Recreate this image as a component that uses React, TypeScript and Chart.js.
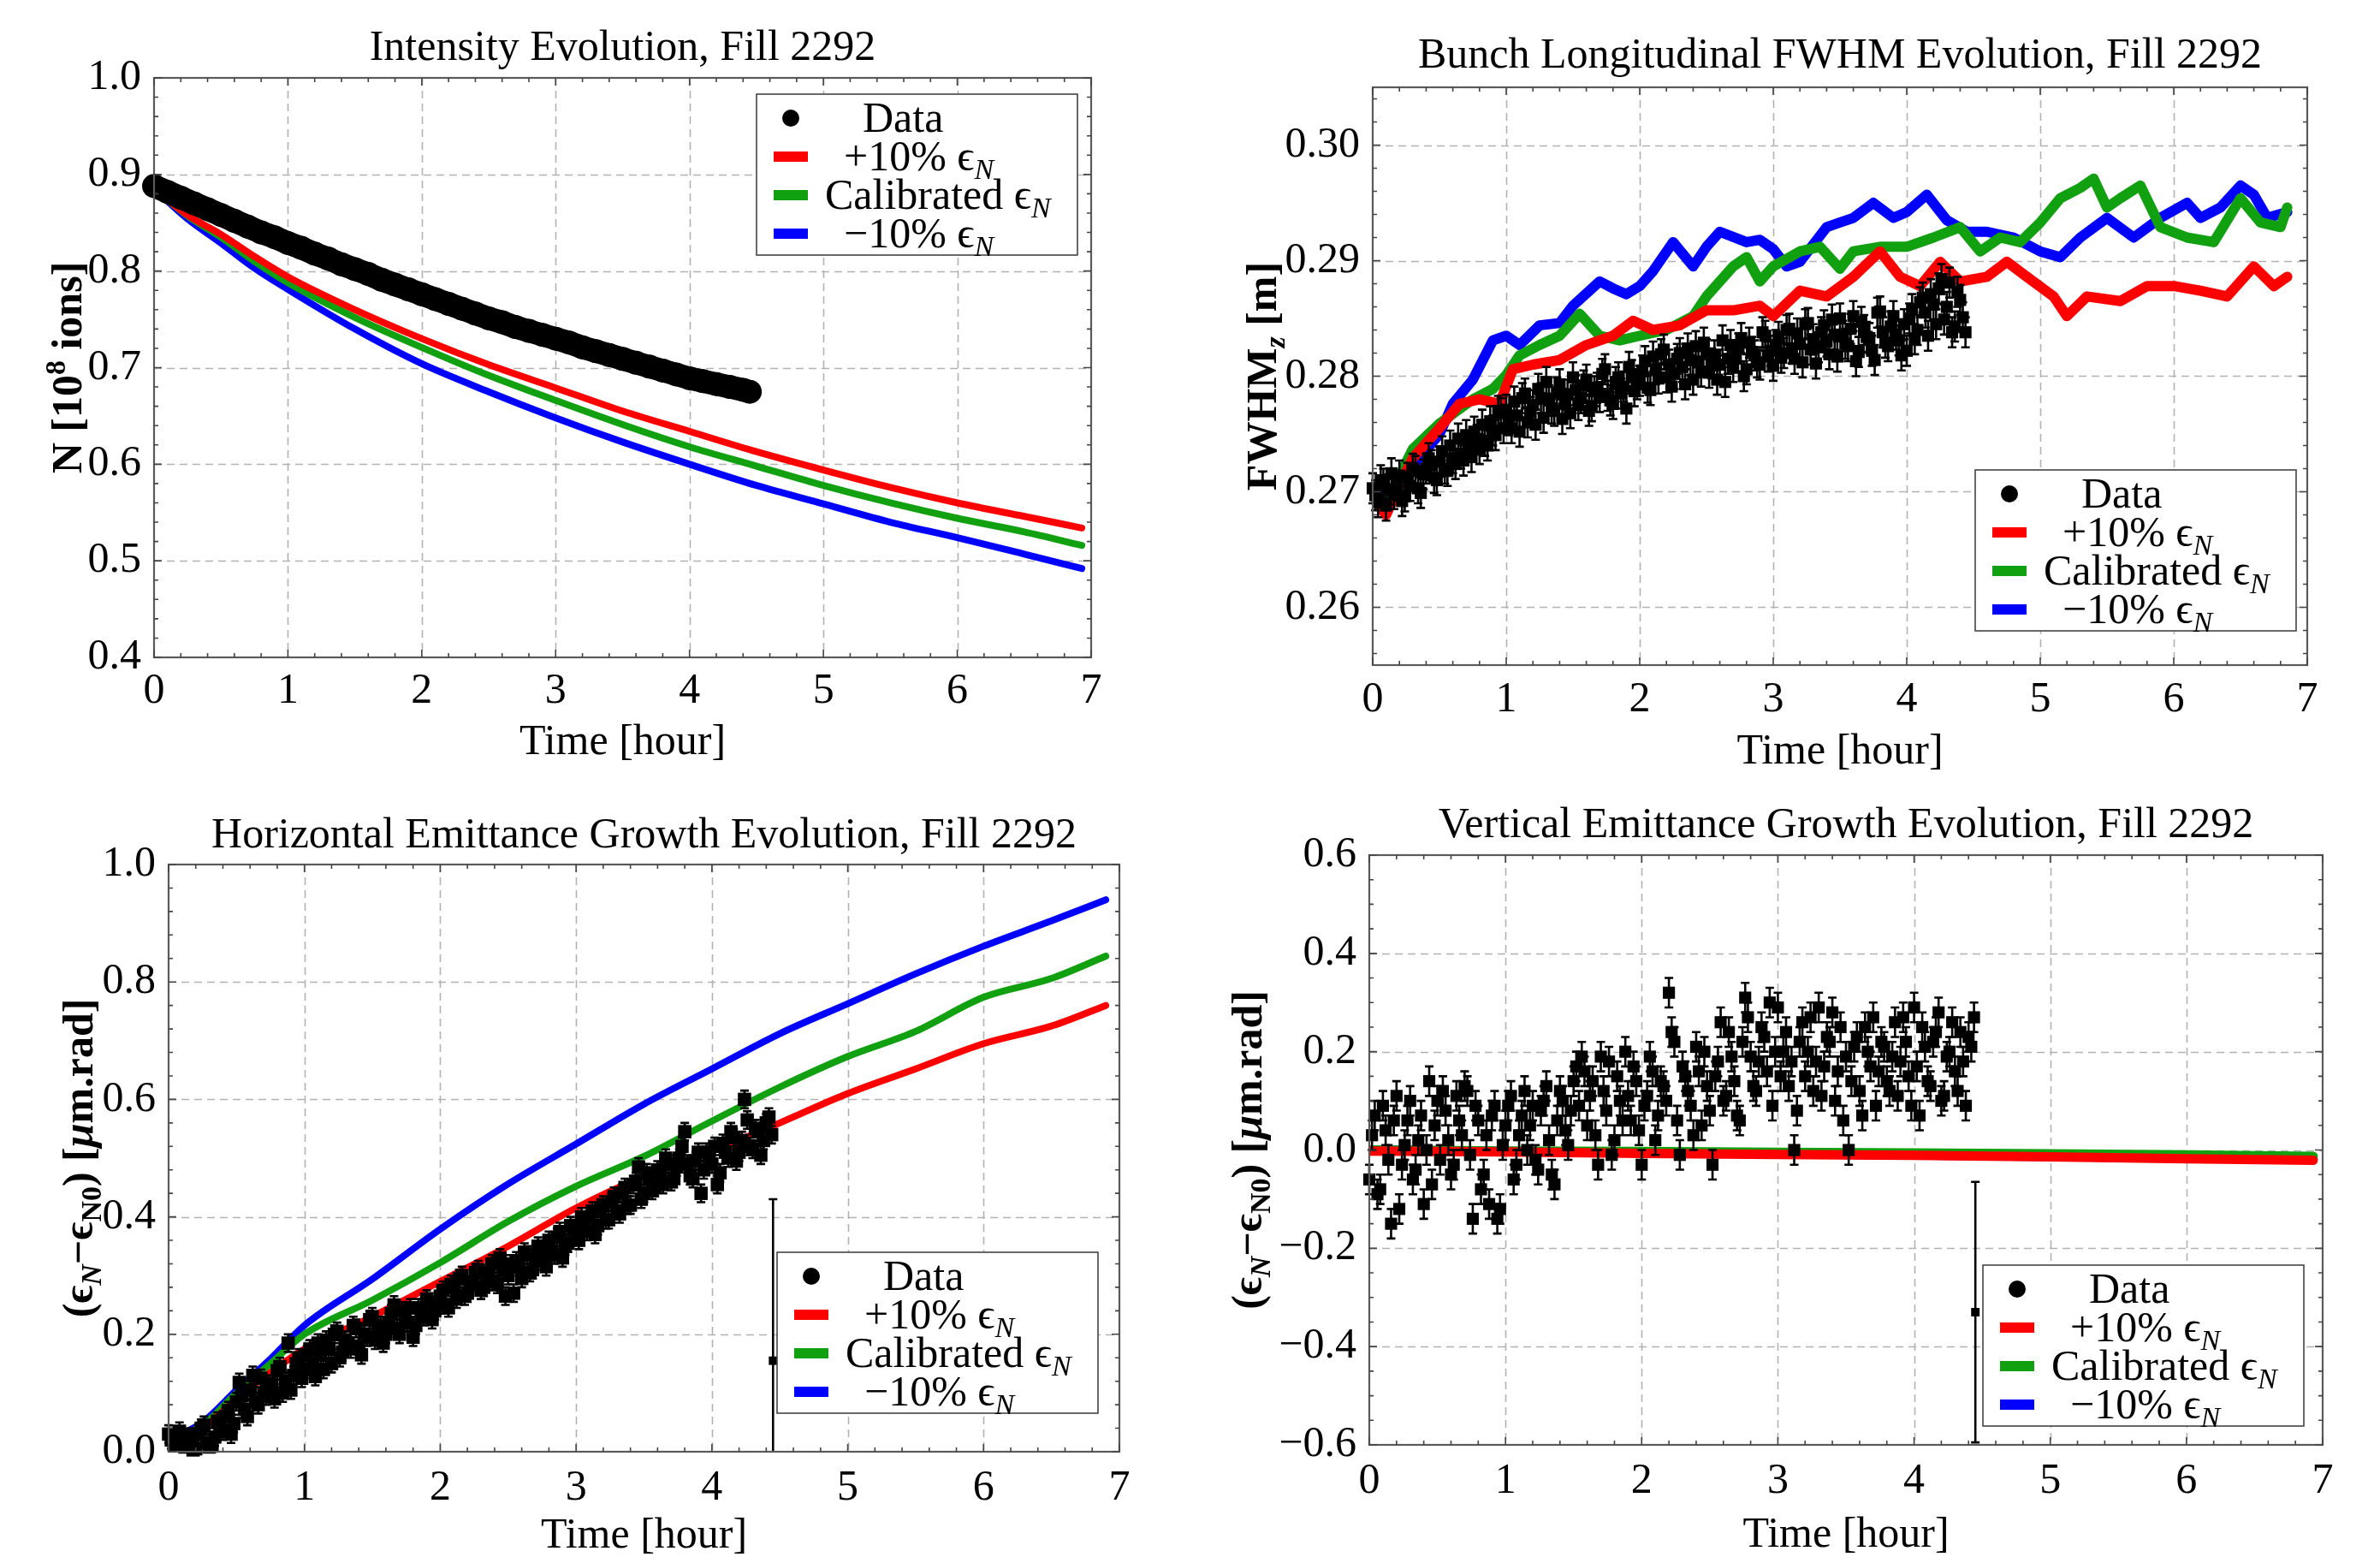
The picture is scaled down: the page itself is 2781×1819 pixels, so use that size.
import React, { useEffect, useRef } from 'react';
import { Chart, registerables } from 'chart.js';
Chart.register(...registerables);

const W = 2781;
const H = 1819;
const FONT = "'Liberation Serif', 'Times New Roman', serif";
const FS = 50;

// ---------------- DATA ----------------
// measurement times (hours) for the error-bar data sets: two interleaved sample sets
const DATA_T = [
  0, 0.04, 0.08, 0.12, 0.16, 0.2, 0.24, 0.28, 0.32, 0.36, 0.4, 0.44, 0.48, 0.52, 0.56, 0.6, 0.64, 0.68, 0.72, 0.76, 0.8, 0.84, 0.88, 0.92, 0.96,
  1, 1.04, 1.08, 1.12, 1.16, 1.2, 1.24, 1.28, 1.32, 1.36, 1.4, 1.44, 1.48, 1.52, 1.56, 1.6, 1.64, 1.68, 1.72, 1.76, 1.8, 1.84, 1.88, 1.92, 1.96,
  2, 2.04, 2.08, 2.12, 2.16, 2.2, 2.24, 2.28, 2.32, 2.36, 2.4, 2.44, 2.48, 2.52, 2.56, 2.6, 2.64, 2.68, 2.72, 2.76, 2.8, 2.84, 2.88, 2.92, 2.96,
  3, 3.04, 3.08, 3.12, 3.16, 3.2, 3.24, 3.28, 3.32, 3.36, 3.4, 3.44, 3.48, 3.52, 3.56, 3.6, 3.64, 3.68, 3.72, 3.76, 3.8, 3.84, 3.88, 3.92, 3.96,
  4, 4.04, 4.08, 4.12, 4.16, 4.2, 4.24, 4.28, 4.32, 4.36, 4.4, 4.44,
];
const DATA_T2 = [
  0.02, 0.06, 0.1, 0.14, 0.18, 0.22, 0.26, 0.3, 0.34, 0.38, 0.42, 0.46, 0.5, 0.54, 0.58, 0.62, 0.66, 0.7, 0.74, 0.78, 0.82, 0.86, 0.9, 0.94, 0.98,
  1.02, 1.06, 1.1, 1.14, 1.18, 1.22, 1.26, 1.3, 1.34, 1.38, 1.42, 1.46, 1.5, 1.54, 1.58, 1.62, 1.66, 1.7, 1.74, 1.78, 1.82, 1.86, 1.9, 1.94, 1.98,
  2.02, 2.06, 2.1, 2.14, 2.18, 2.22, 2.26, 2.3, 2.34, 2.38, 2.42, 2.46, 2.5, 2.54, 2.58, 2.62, 2.66, 2.7, 2.74, 2.78, 2.82, 2.86, 2.9, 2.94, 2.98,
  3.02, 3.06, 3.1, 3.14, 3.18, 3.22, 3.26, 3.3, 3.34, 3.38, 3.42, 3.46, 3.5, 3.54, 3.58, 3.62, 3.66, 3.7, 3.74, 3.78, 3.82, 3.86, 3.9, 3.94, 3.98,
  4.02, 4.06, 4.1, 4.14, 4.18, 4.22, 4.26, 4.3, 4.34, 4.38, 4.42,
];

// Intensity (top-left)
const TL_DATA_T = [0, 0.1, 0.2, 0.3, 0.4, 0.5, 0.6, 0.7, 0.8, 0.9, 1, 1.1, 1.2, 1.3, 1.4, 1.5, 1.6, 1.7, 1.8, 1.9, 2, 2.1, 2.2, 2.3, 2.4, 2.5, 2.6, 2.7, 2.8, 2.9, 3, 3.1, 3.2, 3.3, 3.4, 3.5, 3.6, 3.7, 3.8, 3.9, 4, 4.1, 4.2, 4.3, 4.4, 4.45];
const TL_DATA = [
  0.888, 0.882, 0.876, 0.870, 0.864, 0.858, 0.852, 0.846, 0.840, 0.835,
  0.829, 0.824, 0.818, 0.813, 0.807, 0.802, 0.797, 0.791, 0.786, 0.781,
  0.776, 0.771, 0.766, 0.761, 0.756, 0.751, 0.747, 0.742, 0.738, 0.734,
  0.730, 0.726, 0.721, 0.717, 0.713, 0.709, 0.705, 0.701, 0.697, 0.693,
  0.689, 0.686, 0.683, 0.680, 0.677, 0.675,
];
const TL_CURVE_T = [0, 0.25, 0.5, 0.75, 1, 1.5, 2, 2.5, 3, 3.5, 4, 4.5, 5, 5.5, 6, 6.5, 6.93];
const TL_RED = [0.885, 0.858, 0.838, 0.815, 0.794, 0.760, 0.730, 0.703, 0.679, 0.655, 0.634, 0.613, 0.594, 0.576, 0.560, 0.546, 0.534];
const TL_GREEN = [0.885, 0.857, 0.835, 0.810, 0.788, 0.752, 0.721, 0.692, 0.666, 0.641, 0.618, 0.598, 0.578, 0.560, 0.544, 0.530, 0.516];
const TL_BLUE = [0.885, 0.854, 0.829, 0.803, 0.781, 0.740, 0.704, 0.675, 0.648, 0.623, 0.600, 0.578, 0.559, 0.540, 0.524, 0.507, 0.492];

// Bunch FWHM (top-right)
const TR_DATA = [
  0.2703, 0.2691, 0.2707, 0.2702, 0.2698, 0.2714, 0.2696, 0.2705, 0.2718, 0.2699, 0.2720, 0.2723, 0.2710, 0.2735, 0.2718, 0.2729, 0.2746, 0.2727, 0.2739, 0.2752, 0.2737, 0.2744, 0.2761, 0.2749, 0.2768,
  0.2771, 0.2755, 0.2766, 0.2781, 0.2760, 0.2775, 0.2789, 0.2764, 0.2779, 0.2770, 0.2793, 0.2776, 0.2768, 0.2788, 0.2781, 0.2797, 0.2774, 0.2790, 0.2802, 0.2783, 0.2776, 0.2799, 0.2791, 0.2808, 0.2787,
  0.2796, 0.2813, 0.2788, 0.2806, 0.2819, 0.2799, 0.2791, 0.2815, 0.2808, 0.2824, 0.2797, 0.2812, 0.2829, 0.2803, 0.2818, 0.2810, 0.2795, 0.2827, 0.2816, 0.2833, 0.2806, 0.2821, 0.2812, 0.2838, 0.2817,
  0.2809, 0.2834, 0.2820, 0.2841, 0.2815, 0.2828, 0.2845, 0.2823, 0.2811, 0.2838, 0.2830, 0.2849, 0.2817, 0.2835, 0.2826, 0.2852, 0.2821, 0.2840, 0.2833, 0.2814, 0.2856, 0.2829, 0.2843, 0.2836, 0.2818,
  0.2822, 0.2858, 0.2840, 0.2868, 0.2835, 0.2862, 0.2876, 0.2849, 0.2881, 0.2843, 0.2866, 0.2838,
];
const TR_DATA2 = [
  0.2697, 0.2710, 0.2688, 0.2716, 0.2705, 0.2692, 0.2712, 0.2720, 0.2703, 0.2715, 0.2729, 0.2712, 0.2726, 0.2720, 0.2740, 0.2724, 0.2733, 0.2749, 0.2730, 0.2745, 0.2758, 0.2740, 0.2753, 0.2770, 0.2755,
  0.2762, 0.2778, 0.2752, 0.2785, 0.2769, 0.2758, 0.2781, 0.2795, 0.2772, 0.2786, 0.2763, 0.2784, 0.2799, 0.2775, 0.2792, 0.2770, 0.2787, 0.2782, 0.2806, 0.2779, 0.2795, 0.2785, 0.2772, 0.2801, 0.2793,
  0.2805, 0.2790, 0.2817, 0.2798, 0.2823, 0.2810, 0.2802, 0.2820, 0.2793, 0.2814, 0.2826, 0.2804, 0.2819, 0.2811, 0.2797, 0.2831, 0.2815, 0.2808, 0.2824, 0.2800, 0.2829, 0.2818, 0.2810, 0.2835, 0.2822,
  0.2827, 0.2816, 0.2840, 0.2824, 0.2837, 0.2812, 0.2846, 0.2832, 0.2825, 0.2844, 0.2819, 0.2836, 0.2850, 0.2828, 0.2841, 0.2813, 0.2847, 0.2834, 0.2822, 0.2855, 0.2838, 0.2826, 0.2852, 0.2831, 0.2845,
  0.2850, 0.2832, 0.2864, 0.2855, 0.2871, 0.2845, 0.2884, 0.2860, 0.2838, 0.2873, 0.2851,
];
const TR_ERR = 0.0013;
const TR_BLUE_T = [0, 0.1, 0.25, 0.5, 0.6, 0.75, 0.9, 1.0, 1.1, 1.25, 1.4, 1.5, 1.7, 1.8, 1.9, 2.0, 2.1, 2.25, 2.4, 2.5, 2.6, 2.8, 2.9, 3.0, 3.1, 3.2, 3.4, 3.5, 3.6, 3.75, 3.9, 4.0, 4.15, 4.3, 4.45, 4.6, 4.8, 5.0, 5.15, 5.3, 5.5, 5.7, 5.9, 6.1, 6.2, 6.35, 6.5, 6.6, 6.7, 6.85];
const TR_BLUE = [0.2700, 0.2695, 0.2716, 0.2750, 0.2776, 0.2797, 0.2831, 0.2835, 0.2827, 0.2844, 0.2846, 0.2861, 0.2882, 0.2876, 0.2871, 0.2878, 0.2891, 0.2916, 0.2895, 0.2912, 0.2925, 0.2916, 0.2918, 0.2910, 0.2895, 0.2899, 0.2929, 0.2933, 0.2937, 0.2950, 0.2937, 0.2942, 0.2957, 0.2935, 0.2925, 0.2925, 0.2920, 0.2908, 0.2903, 0.2920, 0.2937, 0.2920, 0.2937, 0.2950, 0.2937, 0.2946, 0.2965, 0.2957, 0.2937, 0.2942];
const TR_GREEN_T = [0, 0.1, 0.3, 0.5, 0.75, 0.9, 1.0, 1.1, 1.25, 1.4, 1.55, 1.7, 1.85, 2.0, 2.2, 2.4, 2.5, 2.7, 2.8, 2.9, 3.0, 3.2, 3.35, 3.5, 3.6, 3.8, 4.0, 4.2, 4.4, 4.55, 4.7, 4.85, 5.0, 5.15, 5.3, 5.4, 5.5, 5.6, 5.75, 5.9, 6.1, 6.3, 6.5, 6.65, 6.8, 6.85];
const TR_GREEN = [0.2700, 0.2690, 0.2737, 0.2759, 0.2780, 0.2789, 0.2801, 0.2818, 0.2827, 0.2835, 0.2854, 0.2835, 0.2831, 0.2835, 0.2840, 0.2852, 0.2869, 0.2895, 0.2903, 0.2882, 0.2895, 0.2908, 0.2912, 0.2893, 0.2908, 0.2912, 0.2912, 0.2920, 0.2929, 0.2908, 0.2920, 0.2916, 0.2933, 0.2954, 0.2963, 0.2971, 0.2946, 0.2954, 0.2965, 0.2929, 0.2920, 0.2916, 0.2954, 0.2933, 0.2929, 0.2946];
const TR_RED_T = [0, 0.1, 0.2, 0.3, 0.5, 0.65, 0.8, 0.95, 1.05, 1.2, 1.4, 1.6, 1.8, 1.95, 2.1, 2.3, 2.5, 2.7, 2.9, 3.0, 3.2, 3.4, 3.6, 3.8, 3.95, 4.1, 4.25, 4.4, 4.6, 4.75, 4.9, 5.1, 5.2, 5.35, 5.6, 5.8, 6.0, 6.2, 6.4, 6.6, 6.75, 6.85];
const TR_RED = [0.2695, 0.2680, 0.2705, 0.2729, 0.2755, 0.2776, 0.2780, 0.2776, 0.2806, 0.2810, 0.2814, 0.2827, 0.2835, 0.2848, 0.2840, 0.2844, 0.2857, 0.2857, 0.2861, 0.2852, 0.2874, 0.2869, 0.2886, 0.2908, 0.2886, 0.2878, 0.2899, 0.2882, 0.2886, 0.2899, 0.2886, 0.2869, 0.2852, 0.2869, 0.2865, 0.2878, 0.2878, 0.2874, 0.2869, 0.2895, 0.2878, 0.2886];

// Horizontal emittance growth (bottom-left)
const BL_DATA = [
  0.030, 0.012, 0.035, 0.008, 0.025, 0.005, 0.040, 0.015, 0.010, 0.052, 0.035, 0.070, 0.048, 0.118, 0.072, 0.105, 0.085, 0.125, 0.095, 0.110, 0.138, 0.100, 0.185, 0.130, 0.160,
  0.140, 0.175, 0.128, 0.165, 0.190, 0.150, 0.205, 0.170, 0.185, 0.215, 0.180, 0.200, 0.225, 0.190, 0.215, 0.200, 0.235, 0.210, 0.240, 0.220, 0.195, 0.245, 0.230, 0.255, 0.240,
  0.265, 0.250, 0.285, 0.260, 0.300, 0.270, 0.290, 0.310, 0.280, 0.305, 0.290, 0.330, 0.265, 0.320, 0.325, 0.295, 0.335, 0.310, 0.350, 0.325, 0.360, 0.335, 0.375, 0.350, 0.385,
  0.370, 0.400, 0.375, 0.410, 0.385, 0.420, 0.395, 0.435, 0.405, 0.450, 0.420, 0.460, 0.430, 0.475, 0.445, 0.480, 0.455, 0.490, 0.465, 0.500, 0.545, 0.470, 0.495, 0.440, 0.510,
  0.490, 0.455, 0.525, 0.500, 0.535, 0.510, 0.600, 0.520, 0.550, 0.505, 0.560, 0.540,
];
const BL_DATA2 = [
  0.020, 0.028, 0.015, 0.022, 0.003, 0.030, 0.045, 0.008, 0.025, 0.040, 0.060, 0.030, 0.085, 0.095, 0.060, 0.130, 0.080, 0.100, 0.115, 0.090, 0.145, 0.120, 0.105, 0.150, 0.125,
  0.165, 0.150, 0.185, 0.140, 0.175, 0.200, 0.160, 0.190, 0.175, 0.210, 0.165, 0.195, 0.230, 0.205, 0.185, 0.220, 0.250, 0.200, 0.225, 0.245, 0.215, 0.235, 0.260, 0.225, 0.250,
  0.275, 0.245, 0.280, 0.295, 0.265, 0.285, 0.305, 0.275, 0.300, 0.320, 0.285, 0.310, 0.300, 0.270, 0.315, 0.340, 0.305, 0.330, 0.345, 0.315, 0.340, 0.365, 0.330, 0.355, 0.380,
  0.360, 0.390, 0.400, 0.370, 0.415, 0.395, 0.425, 0.410, 0.440, 0.420, 0.455, 0.485, 0.440, 0.465, 0.450, 0.475, 0.500, 0.460, 0.485, 0.520, 0.490, 0.465, 0.510, 0.480, 0.500,
  0.520, 0.475, 0.510, 0.545, 0.495, 0.530, 0.565, 0.515, 0.545, 0.530, 0.570,
];
const BL_ERR = 0.015;
const BL_OUT_T = [4.45];
const BL_OUT = [0.155];
const BL_OUT_ERR = [0.275];
const BL_CURVE_T = [0, 0.25, 0.5, 0.75, 1, 1.5, 2, 2.5, 3, 3.5, 4, 4.5, 5, 5.5, 6, 6.5, 6.9];
const BL_BLUE = [0.02, 0.05, 0.105, 0.158, 0.215, 0.294, 0.379, 0.456, 0.524, 0.592, 0.652, 0.712, 0.763, 0.814, 0.861, 0.904, 0.940];
const BL_GREEN = [0.02, 0.045, 0.10, 0.15, 0.20, 0.258, 0.322, 0.392, 0.452, 0.503, 0.563, 0.621, 0.673, 0.716, 0.774, 0.806, 0.844];
const BL_RED = [0.02, 0.04, 0.09, 0.135, 0.175, 0.23, 0.29, 0.35, 0.415, 0.469, 0.512, 0.56, 0.610, 0.652, 0.695, 0.725, 0.760];

// Vertical emittance growth (bottom-right)
const BR_DATA = [
  -0.06, 0.07, -0.08, 0.04, -0.15, 0.11, -0.03, 0.06, -0.06, 0.02, -0.11, 0.14, 0.05, -0.02, 0.08, -0.05, 0.11, 0.03, 0.12, -0.14, 0.06, -0.05, -0.11, 0.09, -0.12,
  0.05, 0.11, -0.03, 0.07, 0.00, 0.09, -0.04, 0.10, 0.02, -0.07, 0.12, 0.04, 0.08, 0.17, 0.19, 0.05, 0.14, -0.03, 0.12, 0.18, 0.02, 0.10, 0.20, 0.06, 0.14,
  -0.03, 0.11, 0.16, 0.07, 0.13, 0.32, 0.22, -0.01, 0.15, 0.09, 0.21, 0.05, 0.13, -0.03, 0.18, 0.10, 0.24, 0.14, 0.06, 0.31, 0.19, 0.12, 0.25, 0.16, 0.09,
  0.29, 0.20, 0.13, 0.00, 0.22, 0.15, 0.27, 0.18, 0.11, 0.23, 0.28, 0.16, 0.06, 0.00, 0.21, 0.12, 0.25, 0.17, 0.09, 0.22, 0.14, 0.19, 0.11, 0.27, 0.15,
  0.29, 0.07, 0.21, 0.13, 0.24, 0.10, 0.19, 0.26, 0.12, 0.18, 0.23, 0.27,
];
const BR_DATA2 = [
  0.03, -0.09, 0.09, -0.02, 0.06, -0.12, 0.01, 0.10, -0.04, 0.07, 0.00, -0.07, 0.10, 0.12, 0.02, -0.03, 0.06, 0.13, -0.01, 0.09, -0.08, 0.03, 0.07, -0.14, 0.01,
  0.09, -0.06, 0.03, 0.12, 0.05, -0.02, 0.08, 0.13, -0.05, 0.06, 0.10, 0.01, 0.14, 0.09, 0.16, 0.11, 0.03, 0.19, 0.08, -0.01, 0.15, 0.06, 0.11, 0.17, 0.04,
  0.09, 0.19, 0.02, 0.14, 0.10, 0.24, 0.06, 0.17, 0.12, 0.03, 0.16, 0.20, 0.08, 0.15, 0.26, 0.11, 0.19, 0.07, 0.22, 0.27, 0.13, 0.18, 0.23, 0.30, 0.20,
  0.15, 0.24, 0.18, 0.08, 0.26, 0.20, 0.12, 0.29, 0.17, 0.22, 0.10, 0.25, 0.19, 0.14, 0.23, 0.07, 0.20, 0.27, 0.16, 0.21, 0.12, 0.26, 0.18, 0.22, 0.09,
  0.17, 0.25, 0.14, 0.22, 0.28, 0.11, 0.20, 0.16, 0.24, 0.09, 0.21,
];
const BR_ERR = 0.03;
const BR_OUT_T = [4.45];
const BR_OUT = [-0.33];
const BR_OUT_ERR = [0.265];
const BR_CURVE_T = [0, 1, 2, 3, 4, 5, 6, 6.93];
const BR_BLUE = [0, -0.003, -0.005, -0.008, -0.010, -0.013, -0.016, -0.018];
const BR_GREEN = [0, -0.002, -0.003, -0.005, -0.006, -0.008, -0.010, -0.013];
const BR_RED = [-0.002, -0.004, -0.007, -0.009, -0.011, -0.014, -0.018, -0.021];

// ticks
const X_TICKS = [0, 1, 2, 3, 4, 5, 6, 7];
const X_LABELS = ['0', '1', '2', '3', '4', '5', '6', '7'];
const TL_Y_TICKS = [0.4, 0.5, 0.6, 0.7, 0.8, 0.9, 1.0];
const TL_Y_LABELS = ['0.4', '0.5', '0.6', '0.7', '0.8', '0.9', '1.0'];
const TR_Y_TICKS = [0.26, 0.27, 0.28, 0.29, 0.30];
const TR_Y_LABELS = ['0.26', '0.27', '0.28', '0.29', '0.30'];
const BL_Y_TICKS = [0, 0.2, 0.4, 0.6, 0.8, 1.0];
const BL_Y_LABELS = ['0.0', '0.2', '0.4', '0.6', '0.8', '1.0'];
const BR_Y_TICKS = [-0.6, -0.4, -0.2, 0, 0.2, 0.4, 0.6];
const BR_Y_LABELS = ['\u22120.6', '\u22120.4', '\u22120.2', '0.0', '0.2', '0.4', '0.6'];

// ---------------- TEXT ----------------
type Seg = { t: string; i?: boolean; sub?: boolean; sup?: boolean };
const LEGEND_LABELS: Seg[][] = [
  [{ t: 'Data' }],
  [{ t: '+10% \u03F5' }, { t: 'N', i: true, sub: true }],
  [{ t: 'Calibrated \u03F5' }, { t: 'N', i: true, sub: true }],
  [{ t: '\u221210% \u03F5' }, { t: 'N', i: true, sub: true }],
];
const LEGEND_INDENT = [44, 22, 0, 22];
const RED = '#ff0000';
const GREEN = '#10a010';
const BLUE = '#0000ff';
const LEGEND_COLORS = ['#000', RED, GREEN, BLUE];
const EMIT_LABEL: Seg[] = [
  { t: '(\u03F5' }, { t: 'N', i: true, sub: true }, { t: '\u2212\u03F5' }, { t: 'N0', sub: true },
  { t: ') [' }, { t: '\u03BC', i: true }, { t: 'm.rad]' },
];

function fontFor(s: Seg, size: number, bold: boolean) {
  const sz = s.sub || s.sup ? Math.round(size * 0.68) : size;
  return `${s.i ? 'italic ' : ''}${bold ? 'bold ' : ''}${sz}px ${FONT}`;
}
function drawRich(ctx: CanvasRenderingContext2D, segs: Seg[], x: number, y: number, size: number, bold: boolean, align: 'left' | 'center') {
  let w = 0;
  for (const s of segs) { ctx.font = fontFor(s, size, bold); w += ctx.measureText(s.t).width; }
  let cx = align === 'center' ? x - w / 2 : x;
  ctx.textAlign = 'left';
  ctx.textBaseline = 'alphabetic';
  ctx.fillStyle = '#000';
  for (const s of segs) {
    ctx.font = fontFor(s, size, bold);
    const dy = s.sub ? size * 0.2 : s.sup ? -size * 0.38 : 0;
    ctx.fillText(s.t, cx, y + dy);
    cx += ctx.measureText(s.t).width;
  }
}

// ---------------- HELPERS ----------------
const pts = (T: number[], V: number[]) => {
  const n = Math.min(T.length, V.length);
  const out: { x: number; y: number }[] = [];
  for (let k = 0; k < n; k++) out.push({ x: T[k], y: V[k] });
  return out;
};
const curve = (T: number[], V: number[], color: string, width: number, smooth: boolean) => ({
  type: 'line', data: pts(T, V), borderColor: color, backgroundColor: color, borderWidth: width,
  pointRadius: 0, showLine: true, tension: 0, fill: false,
  cubicInterpolationMode: smooth ? 'monotone' : 'default', borderJoinStyle: 'round', borderCapStyle: 'round',
});
const markers = (T: number[], V: number[], radius: number, style: string, err?: number | number[]) => ({
  type: 'line', data: pts(T, V), showLine: false, pointRadius: radius, pointStyle: style,
  pointBackgroundColor: '#000', pointBorderColor: '#000', pointBorderWidth: 0,
  borderColor: '#000', backgroundColor: '#000', errorBars: err, clip: 14,
});

interface Spec {
  area: [number, number, number, number];
  xr: [number, number];
  yr: [number, number];
  yTicks: number[];
  yLabels: string[];
  xMinor: number;
  yMinor: number;
  title: string;
  titleBase: number;
  xTitleBase: number;
  yTitle: Seg[];
  yTitleX: number;
  legend: [number, number];
  xPad: number;
  datasets: any[];
}

const SPECS: Spec[] = [
  {
    area: [180, 91, 1275, 768], xr: [0, 7], yr: [0.4, 1.0],
    yTicks: TL_Y_TICKS, yLabels: TL_Y_LABELS, xMinor: 0.2, yMinor: 0.02,
    title: 'Intensity Evolution, Fill 2292', titleBase: 70, xTitleBase: 881,
    yTitle: [{ t: 'N [10' }, { t: '8', sup: true }, { t: ' ions]' }], yTitleX: 81,
    legend: [884, 110], xPad: 2,
    datasets: [
      { ...markers(TL_DATA_T, TL_DATA, 14, 'circle'), showLine: true, borderWidth: 27, clip: 16 },
      curve(TL_CURVE_T, TL_RED, RED, 8, true),
      curve(TL_CURVE_T, TL_GREEN, GREEN, 8, true),
      curve(TL_CURVE_T, TL_BLUE, BLUE, 8, true),
    ],
  },
  {
    area: [1604, 102, 2696, 777], xr: [0, 7], yr: [0.255, 0.305],
    yTicks: TR_Y_TICKS, yLabels: TR_Y_LABELS, xMinor: 0.2, yMinor: 0.002,
    title: 'Bunch Longitudinal FWHM Evolution, Fill 2292', titleBase: 79, xTitleBase: 892,
    yTitle: [{ t: 'FWHM' }, { t: 'z', i: true, sub: true }, { t: ' [m]' }], yTitleX: 1477,
    legend: [2308, 549], xPad: 3,
    datasets: [
      markers(DATA_T, TR_DATA, 10, 'rect', TR_ERR),
      markers(DATA_T2, TR_DATA2, 10, 'rect', TR_ERR),
      curve(TR_RED_T, TR_RED, RED, 12, false),
      curve(TR_GREEN_T, TR_GREEN, GREEN, 12, false),
      curve(TR_BLUE_T, TR_BLUE, BLUE, 12, false),
    ],
  },
  {
    area: [197, 1010, 1308, 1696], xr: [0, 7], yr: [0, 1.0],
    yTicks: BL_Y_TICKS, yLabels: BL_Y_LABELS, xMinor: 0.2, yMinor: 0.04,
    title: 'Horizontal Emittance Growth Evolution, Fill 2292', titleBase: 990, xTitleBase: 1808,
    yTitle: EMIT_LABEL, yTitleX: 94,
    legend: [908, 1463], xPad: 5,
    datasets: [
      markers(DATA_T, BL_DATA, 11, 'rect', BL_ERR),
      markers(DATA_T2, BL_DATA2, 11, 'rect', BL_ERR),
      markers(BL_OUT_T, BL_OUT, 7, 'rect', BL_OUT_ERR),
      curve(BL_CURVE_T, BL_RED, RED, 8, true),
      curve(BL_CURVE_T, BL_GREEN, GREEN, 8, true),
      curve(BL_CURVE_T, BL_BLUE, BLUE, 8, true),
    ],
  },
  {
    area: [1600, 999, 2714, 1688], xr: [0, 7], yr: [-0.6, 0.6],
    yTicks: BR_Y_TICKS, yLabels: BR_Y_LABELS, xMinor: 0.2, yMinor: 0.05,
    title: 'Vertical Emittance Growth Evolution, Fill 2292', titleBase: 978, xTitleBase: 1807,
    yTitle: EMIT_LABEL, yTitleX: 1460,
    legend: [2317, 1478], xPad: 5,
    datasets: [
      markers(DATA_T, BR_DATA, 10, 'rect', BR_ERR),
      markers(DATA_T2, BR_DATA2, 10, 'rect', BR_ERR),
      markers(BR_OUT_T, BR_OUT, 7, 'rect', BR_OUT_ERR),
      curve(BR_CURVE_T, BR_RED, RED, 11, false),
      curve(BR_CURVE_T, BR_GREEN, GREEN, 11, false),
      curve(BR_CURVE_T, BR_BLUE, BLUE, 11, false),
    ],
  },
];

const AXIS_W = 150;
const AXIS_H = 100;

function decor(spec: Spec) {
  return {
    id: 'decor',
    beforeDatasetsDraw(chart: any) {
      const { ctx, chartArea: a, scales } = chart;
      const xs = scales.x, ys = scales.y;
      ctx.save();
      ctx.strokeStyle = '#b2b2b2';
      ctx.lineWidth = 1.6;
      ctx.setLineDash([9, 6]);
      for (const v of X_TICKS) {
        if (v <= spec.xr[0] || v >= spec.xr[1]) continue;
        const px = Math.round(xs.getPixelForValue(v)) + 0.5;
        ctx.beginPath(); ctx.moveTo(px, a.top); ctx.lineTo(px, a.bottom); ctx.stroke();
      }
      for (const v of spec.yTicks) {
        if (v <= spec.yr[0] + 1e-9 || v >= spec.yr[1] - 1e-9) continue;
        const py = Math.round(ys.getPixelForValue(v)) + 0.5;
        ctx.beginPath(); ctx.moveTo(a.left, py); ctx.lineTo(a.right, py); ctx.stroke();
      }
      ctx.restore();
    },
    afterDatasetsDraw(chart: any) {
      const { ctx, chartArea: a, scales } = chart;
      const ys = scales.y;
      ctx.save();
      ctx.beginPath(); ctx.rect(a.left - 10, a.top, a.width + 20, a.height); ctx.clip();
      ctx.strokeStyle = '#000';
      ctx.lineWidth = 2.6;
      chart.data.datasets.forEach((ds: any, i: number) => {
        if (ds.errorBars === undefined) return;
        const meta = chart.getDatasetMeta(i);
        meta.data.forEach((el: any, j: number) => {
          const e = Array.isArray(ds.errorBars) ? ds.errorBars[j] : ds.errorBars;
          const v = ds.data[j].y;
          const y1 = ys.getPixelForValue(v + e);
          const y2 = ys.getPixelForValue(v - e);
          ctx.beginPath();
          ctx.moveTo(el.x, y1); ctx.lineTo(el.x, y2);
          ctx.moveTo(el.x - 5, y1); ctx.lineTo(el.x + 5, y1);
          ctx.moveTo(el.x - 5, y2); ctx.lineTo(el.x + 5, y2);
          ctx.stroke();
        });
      });
      ctx.restore();
    },
    afterDraw(chart: any) {
      const { ctx, chartArea: a, scales } = chart;
      const xs = scales.x, ys = scales.y;
      ctx.save();
      // frame
      ctx.strokeStyle = '#5a5a5a';
      ctx.lineWidth = 2.2;
      ctx.strokeRect(a.left, a.top, a.right - a.left, a.bottom - a.top);
      // inward ticks
      ctx.strokeStyle = '#444';
      ctx.lineWidth = 1.6;
      const isMajor = (v: number, arr: number[]) => arr.some((m) => Math.abs(m - v) < 1e-7);
      const x0 = Math.ceil(spec.xr[0] / spec.xMinor - 1e-6);
      const x1 = Math.floor(spec.xr[1] / spec.xMinor + 1e-6);
      for (let k = x0; k <= x1; k++) {
        const v = k * spec.xMinor;
        const len = isMajor(v, X_TICKS) ? 9 : 5;
        const px = xs.getPixelForValue(v);
        ctx.beginPath();
        ctx.moveTo(px, a.bottom); ctx.lineTo(px, a.bottom - len);
        ctx.moveTo(px, a.top); ctx.lineTo(px, a.top + len);
        ctx.stroke();
      }
      const y0 = Math.ceil(spec.yr[0] / spec.yMinor - 1e-6);
      const y1 = Math.floor(spec.yr[1] / spec.yMinor + 1e-6);
      for (let k = y0; k <= y1; k++) {
        const v = k * spec.yMinor;
        const len = isMajor(v, spec.yTicks) ? 9 : 5;
        const py = ys.getPixelForValue(v);
        ctx.beginPath();
        ctx.moveTo(a.left, py); ctx.lineTo(a.left + len, py);
        ctx.moveTo(a.right, py); ctx.lineTo(a.right - len, py);
        ctx.stroke();
      }
      // legend
      const [lx, ly] = spec.legend;
      ctx.fillStyle = '#fff';
      ctx.fillRect(lx, ly, 375, 188);
      ctx.strokeStyle = '#444';
      ctx.lineWidth = 1.6;
      ctx.strokeRect(lx, ly, 375, 188);
      for (let i = 0; i < 4; i++) {
        const cy = ly + 28 + 45 * i;
        ctx.fillStyle = LEGEND_COLORS[i];
        if (i === 0) {
          ctx.beginPath(); ctx.arc(lx + 40, cy, 10, 0, Math.PI * 2); ctx.fill();
        } else {
          ctx.fillRect(lx + 20, cy - 6, 40, 12);
        }
        drawRich(ctx, LEGEND_LABELS[i], lx + 80 + LEGEND_INDENT[i], cy + 16, FS, false, 'left');
      }
      // titles
      const cx = (a.left + a.right) / 2;
      drawRich(ctx, [{ t: spec.title }], cx, spec.titleBase, FS, false, 'center');
      drawRich(ctx, [{ t: 'Time [hour]' }], cx, spec.xTitleBase, FS, false, 'center');
      ctx.translate(spec.yTitleX, (a.top + a.bottom) / 2);
      ctx.rotate(-Math.PI / 2);
      drawRich(ctx, spec.yTitle, 0, 14, FS, true, 'center');
      ctx.restore();
    },
  };
}

function makeConfig(spec: Spec): any {
  const [l, t, r, b] = spec.area;
  return {
    type: 'line',
    data: { datasets: spec.datasets },
    options: {
      responsive: false,
      maintainAspectRatio: false,
      animation: false,
      events: [],
      devicePixelRatio: 1,
      layout: { padding: { left: l - AXIS_W, right: W - r, top: t, bottom: H - b - AXIS_H } },
      plugins: { legend: { display: false }, tooltip: { enabled: false }, title: { display: false } },
      scales: {
        x: {
          type: 'linear', min: spec.xr[0], max: spec.xr[1],
          afterFit: (s: any) => { s.height = AXIS_H; },
          afterBuildTicks: (s: any) => { s.ticks = X_TICKS.map((v) => ({ value: v })); },
          grid: { display: false }, border: { display: false },
          ticks: {
            autoSkip: false, maxRotation: 0, minRotation: 0, padding: spec.xPad, color: '#000',
            font: { family: FONT, size: FS },
            callback: (v: number) => X_LABELS[X_TICKS.findIndex((m) => Math.abs(m - v) < 1e-9)] ?? '',
          },
        },
        y: {
          type: 'linear', min: spec.yr[0], max: spec.yr[1],
          afterFit: (s: any) => { s.width = AXIS_W; },
          afterBuildTicks: (s: any) => { s.ticks = spec.yTicks.map((v) => ({ value: v })); },
          grid: { display: false }, border: { display: false },
          ticks: {
            autoSkip: false, padding: 7, color: '#000',
            font: { family: FONT, size: FS },
            callback: (v: number) => spec.yLabels[spec.yTicks.findIndex((m) => Math.abs(m - v) < 1e-9)] ?? '',
          },
        },
      },
    },
    plugins: [decor(spec)],
  };
}

function Plot({ spec }: { spec: Spec }) {
  const ref = useRef<HTMLCanvasElement>(null);
  useEffect(() => {
    if (!ref.current) return;
    const chart = new Chart(ref.current, makeConfig(spec));
    return () => chart.destroy();
  }, [spec]);
  return (
    <canvas
      ref={ref}
      width={W}
      height={H}
      style={{ position: 'absolute', left: 0, top: 0, width: W, height: H }}
    />
  );
}

export default function App() {
  return (
    <div style={{ position: 'absolute', left: 0, top: 0, width: W, height: H, background: '#fff', overflow: 'hidden' }}>
      {SPECS.map((s, i) => (
        <Plot key={i} spec={s} />
      ))}
    </div>
  );
}
